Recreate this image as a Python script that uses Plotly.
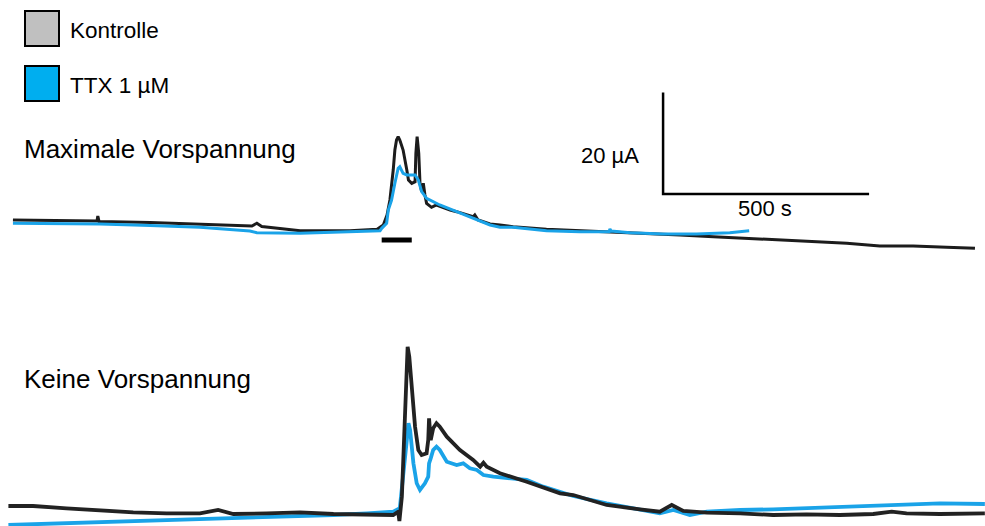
import plotly.graph_objects as go

# ---------------- data (time in s, current in µA relative to panel baseline) -------------
# Top panel: "Maximale Vorspannung"
top_ctrl_t = [12, 126, 216, 218, 221, 345, 466, 563, 592, 604, 616, 660, 709, 830, 896, 903, 911, 920,
              927, 935, 939, 943, 947, 951, 959, 968, 972, 980, 988, 990, 993, 997, 1000, 1004, 1008,
              1012, 1016, 1028, 1040, 1073, 1089, 1129, 1133, 1141, 1170, 1194, 1226, 1307, 1388, 1469,
              1550, 1631, 1712, 1793, 1874, 1954, 2036, 2116, 2197, 2278, 2347]
top_ctrl_i = [1.97, 1.87, 1.77, 2.76, 1.67, 1.48, 1.12, 0.79, 0.79, 1.32, 0.69, 0.30, -0.14, -0.14, 0.14,
              0.53, 0.99, 2.96, 5.91, 11.82, 15.76, 17.73, 18.38, 17.73, 15.76, 11.82, 9.85, 9.20, 9.52,
              15.11, 18.38, 15.11, 9.20, 7.55, 9.20, 6.90, 5.26, 4.47, 4.93, 3.94, 3.61, 2.62, 2.96, 1.97,
              1.18, 0.99, 0.65, 0.14, -0.14, -0.33, -0.65, -0.99, -1.32, -1.64, -1.97, -2.31, -2.62,
              -3.15, -3.15, -3.41, -3.61]

top_ttx_t = [12, 223, 345, 466, 587, 604, 709, 830, 903, 907, 919, 923, 931, 939, 947, 951, 959, 968,
             988, 996, 1004, 1016, 1048, 1089, 1129, 1170, 1194, 1226, 1307, 1388, 1459, 1461, 1464,
             1510, 1590, 1671, 1752, 1799]
top_ttx_i = [1.32, 1.18, 0.89, 0.53, -0.20, -0.53, -0.65, -0.33, -0.14, 0.33, 1.32, 3.94, 5.91, 9.20,
             12.16, 12.47, 11.17, 10.84, 10.84, 9.85, 7.55, 6.25, 4.93, 3.61, 2.31, 0.99, 0.53, 0.53,
             -0.14, -0.33, -0.33, 0.20, -0.20, -0.53, -0.79, -0.79, -0.53, -0.14]

# Bottom panel: "Keine Vorspannung"
bot_ctrl_t = [1, 61, 142, 223, 304, 385, 466, 510, 547, 628, 709, 790, 871, 935, 947, 950, 956, 959,
              964, 968, 970, 974, 980, 988, 996, 1004, 1016, 1020, 1022, 1026, 1032, 1040, 1048, 1065,
              1097, 1129, 1146, 1154, 1162, 1194, 1259, 1340, 1372, 1453, 1534, 1582, 1611, 1639, 1696,
              1777, 1857, 1938, 2019, 2100, 2145, 2181, 2262, 2371]
bot_ctrl_i = [1.77, 1.77, 1.32, 0.85, 0.53, 0.33, 0.33, 0.99, 0.20, 0.33, 0.53, 0.20, 0.00, 0.00, 0.65,
              -1.18, 3.61, 10.19, 20.04, 29.89, 33.16, 31.19, 25.28, 17.40, 12.81, 11.82, 12.16, 14.78,
              19.05, 14.78, 17.08, 18.07, 17.40, 15.43, 12.81, 10.84, 9.52, 10.31, 9.52, 8.22, 6.56,
              4.28, 3.94, 1.97, 1.12, 0.65, 1.97, 0.79, 0.45, 0.33, 0.00, 0.14, 0.00, 0.20, 0.65, 0.33,
              0.20, 0.33]

bot_ttx_t = [1, 142, 304, 466, 628, 790, 871, 935, 951, 959, 968, 972, 976, 984, 992, 1000, 1012, 1020,
             1022, 1026, 1032, 1040, 1048, 1065, 1089, 1105, 1121, 1138, 1154, 1178, 1218, 1259, 1299,
             1340, 1372, 1453, 1534, 1582, 1615, 1655, 1696, 1777, 1857, 1938, 2019, 2100, 2181, 2262,
             2371]
bot_ttx_i = [-1.97, -1.64, -1.32, -0.85, -0.45, 0.00, 0.33, 0.65, 1.32, 6.90, 14.78, 18.07, 16.75,
             10.19, 6.25, 4.93, 6.25, 7.55, 10.19, 11.17, 12.81, 13.46, 12.81, 10.50, 9.85, 10.19, 9.20,
             8.87, 7.88, 7.55, 7.23, 6.90, 5.58, 4.59, 3.74, 2.31, 0.99, 0.33, 0.99, 0.00, 0.65, 0.99,
             1.12, 1.32, 1.64, 1.77, 1.97, 2.31, 2.17]

# stimulus marker (s) and scale bar (s, µA)
stim_t = [907, 980]
stim_i = -1.97
scale_t0, scale_i0 = 1590, 7.09
scale_dt, scale_di = 500, 20

legend_labels = ["Kontrolle", "TTX 1 µM"]
panel_labels = ["Maximale Vorspannung", "Keine Vorspannung"]

# ---------------- layout geometry -------------------------------------------------------
W, H = 985, 526
S_PER_PX = 500 / 206.0
UA_PER_PX = 20 / 101.5

BLACK = "#1c1c1c"
BLUE = "#1aa3e8"
FONT = "Liberation Sans, Arial, sans-serif"

fig = go.Figure()

# top panel (yaxis2): blue drawn over black
fig.add_trace(go.Scatter(x=top_ctrl_t, y=top_ctrl_i, mode="lines", yaxis="y2",
                         line=dict(color=BLACK, width=3.0), hoverinfo="skip", showlegend=False))
fig.add_trace(go.Scatter(x=top_ttx_t, y=top_ttx_i, mode="lines", yaxis="y2",
                         line=dict(color=BLUE, width=3.0), hoverinfo="skip", showlegend=False))
# stimulus bar
fig.add_trace(go.Scatter(x=stim_t, y=[stim_i, stim_i], mode="lines", yaxis="y2",
                         line=dict(color="black", width=5), hoverinfo="skip", showlegend=False))
# scale bar
fig.add_trace(go.Scatter(x=[scale_t0, scale_t0, scale_t0 + scale_dt],
                         y=[scale_i0 + scale_di, scale_i0, scale_i0], mode="lines", yaxis="y2",
                         line=dict(color="black", width=2.5), hoverinfo="skip", showlegend=False))

# bottom panel (yaxis): black drawn over blue
fig.add_trace(go.Scatter(x=bot_ttx_t, y=bot_ttx_i, mode="lines", yaxis="y",
                         line=dict(color=BLUE, width=3.8), hoverinfo="skip", showlegend=False))
fig.add_trace(go.Scatter(x=bot_ctrl_t, y=bot_ctrl_i, mode="lines", yaxis="y",
                         line=dict(color="#222222", width=3.8), hoverinfo="skip", showlegend=False))

top_base_px, bot_base_px = 230, 515
fig.update_layout(
    width=W, height=H, margin=dict(l=0, r=0, t=0, b=0),
    paper_bgcolor="white", plot_bgcolor="white",
    xaxis=dict(range=[-8 * S_PER_PX, (W - 8) * S_PER_PX], visible=False, fixedrange=True),
    yaxis=dict(domain=[0, 0.5], visible=False, fixedrange=True,
               range=[(bot_base_px - H) * UA_PER_PX, (bot_base_px - H / 2) * UA_PER_PX]),
    yaxis2=dict(domain=[0.5, 1], visible=False, fixedrange=True,
                range=[(top_base_px - H / 2) * UA_PER_PX, top_base_px * UA_PER_PX]),
    font=dict(family=FONT, color="black"),
)

def px_x(p):
    return p / W

def px_y(p):
    return 1 - p / H

# legend boxes
box_colors = ["#c0c0c0", "#00aeef"]
box_tops = [11, 66]
for lab, col, top in zip(legend_labels, box_colors, box_tops):
    fig.add_shape(type="rect", xref="paper", yref="paper",
                  x0=px_x(25), x1=px_x(59), y0=px_y(top), y1=px_y(top + 35),
                  fillcolor=col, line=dict(color="black", width=2))
    fig.add_annotation(x=px_x(68), y=px_y(top + 19), xref="paper", yref="paper",
                       text=lab, showarrow=False, xanchor="left", yanchor="middle",
                       font=dict(size=22.5, family=FONT, color="black"))

# panel labels
for lab, yc in zip(panel_labels, [149, 379]):
    fig.add_annotation(x=px_x(22), y=px_y(yc), xref="paper", yref="paper",
                       text=lab, showarrow=False, xanchor="left", yanchor="middle",
                       font=dict(size=26, family=FONT, color="black"))

# scale bar labels
fig.add_annotation(x=px_x(610), y=px_y(155), xref="paper", yref="paper", text="20 µA",
                   showarrow=False, xanchor="center", yanchor="middle",
                   font=dict(size=22, family=FONT, color="black"))
fig.add_annotation(x=px_x(765), y=px_y(208), xref="paper", yref="paper", text="500 s",
                   showarrow=False, xanchor="center", yanchor="middle",
                   font=dict(size=22, family=FONT, color="black"))

fig.write_html("out.html", config={"displayModeBar": False})
